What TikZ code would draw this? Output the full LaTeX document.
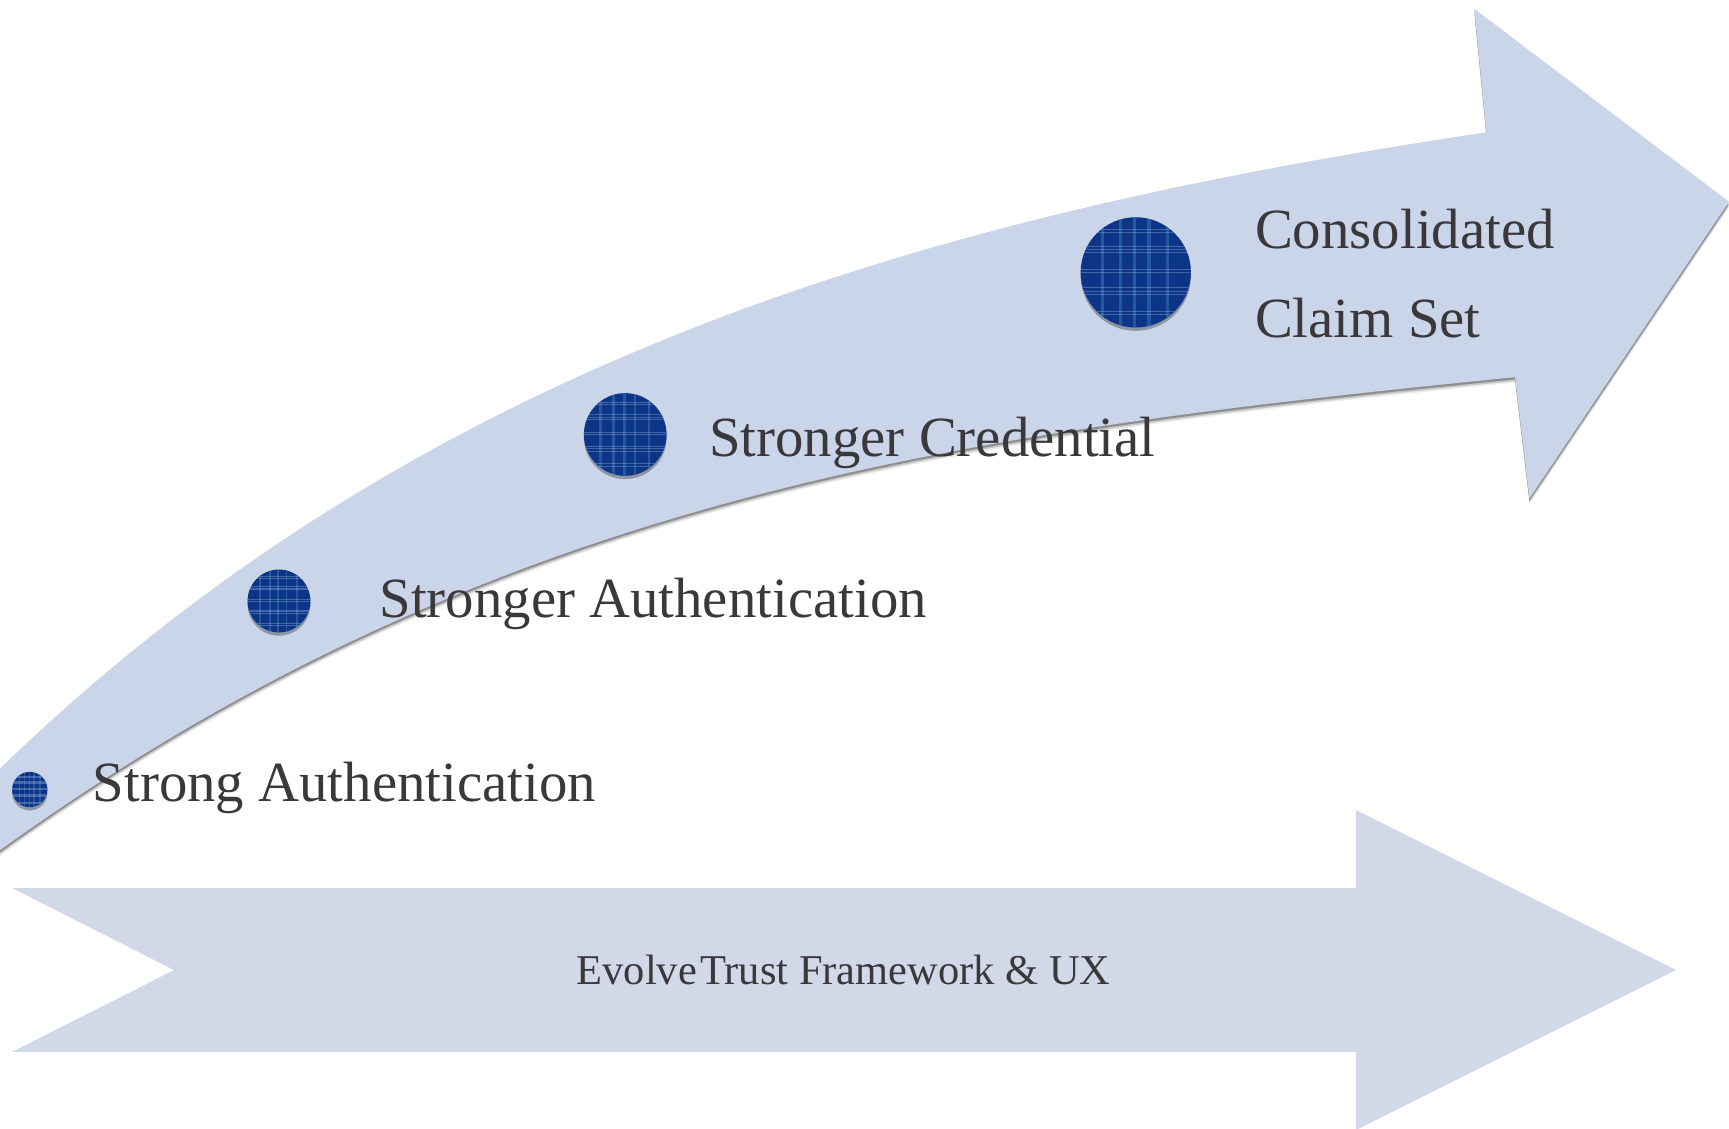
\documentclass[tikz,border=0pt]{standalone}
\usepackage{fontspec}
\setmainfont{Liberation Serif}
\usetikzlibrary{calc,shadows}
\definecolor{bandblue}{RGB}{203,213,233}
\definecolor{arrowblue}{RGB}{209,216,232}
\definecolor{dotblue}{RGB}{12,52,135}
\definecolor{stripecol}{RGB}{45,105,168}
\definecolor{linecol}{RGB}{150,175,215}
\definecolor{txt}{RGB}{58,56,58}
\begin{document}
\begin{tikzpicture}[x=1pt,y=-1pt,
  bandpath/.style={insert path={(0,697) .. controls (390,319) and (860,193) .. (1348,120) -- (1337,8) -- (1568,183) -- (1387,452) -- (1374,342) .. controls (874,392) and (450,447) .. (0,771) -- cycle}},
  lbl/.style={anchor=base west, inner sep=0pt, text=txt, font=\fontsize{51.5}{62}\selectfont},
  plaiddot/.style={circle, inner sep=0pt, minimum size=#1, fill=dotblue,
    drop shadow={shadow xshift=0pt, shadow yshift=-3pt, opacity=.3, fill=black},
    path picture={
      \foreach \f in {0.2,0.36,0.49,0.62,0.79}
        \draw[stripecol, line width=0.03*#1, opacity=.7]
          ($(path picture bounding box.south west)!\f!(path picture bounding box.south east)$) --
          ($(path picture bounding box.north west)!\f!(path picture bounding box.north east)$);
      \foreach \f in {0.12,0.15,0.3,0.33,0.36,0.5,0.53,0.68,0.71,0.74,0.86,0.89}
        \draw[linecol, line width=0.006*#1, opacity=.4]
          ($(path picture bounding box.south west)!\f!(path picture bounding box.north west)$) --
          ($(path picture bounding box.south east)!\f!(path picture bounding box.north east)$);
    }}]
\useasboundingbox (0,0) rectangle (1568,1023);
\fill[white] (0,0) rectangle (1568,1023);
% straight arrow
\fill[arrowblue] (10.9,805.3) -- (1229.7,805.3) -- (1229.7,734.6) -- (1520,879.7) -- (1229.7,1024.8) -- (1229.7,954) -- (10.9,954) -- (157.8,879.7) -- cycle;
\node[anchor=base, inner sep=0pt, text=txt, font=\fontsize{38.5}{46}\selectfont] (evolve) at (765,893) {Evolve\kern0.08em Trust Framework \& UX};
% curved arrow with shadow
\fill[black, opacity=.08, yshift=-5pt, bandpath];
\fill[black, opacity=.16, yshift=-3.5pt, bandpath];
\fill[black, opacity=.28, yshift=-2pt, bandpath];
\fill[bandblue, bandpath];
% dots
\node[plaiddot=32pt] (c1) at (27,716) {};
\node[plaiddot=57pt] (c2) at (253,545) {};
\node[plaiddot=75pt] (c3) at (567,394) {};
\node[plaiddot=100pt] (c4) at (1030,247) {};
% labels
\node[lbl] (t1) at (84,727) {Strong Authentication};
\node[lbl] (t2) at (344,560) {Stronger Authentication};
\node[lbl] (t3) at (643,414) {Stronger Credential};
\node[lbl] (t4) at (1138,225) {Consolidated};
\node[lbl] (t5) at (1138,306) {Claim Set};
\end{tikzpicture}
\end{document}
